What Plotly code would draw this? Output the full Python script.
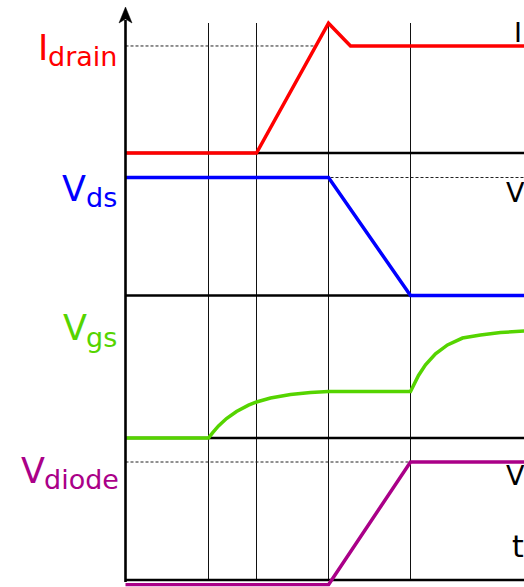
import numpy as np
import plotly.graph_objects as go

W, H = 524, 587

# ---- waveform data (time in arbitrary units, levels normalised per trace) ----
t_marks = [8.3, 13.1, 20.3, 28.5]          # switching instants

idrain_t = [0.0, 13.1, 20.3, 22.5, 42.0]
idrain_v = [0.0, 0.0, 1.10, 0.907, 0.907]
idrain_level = 0.907

vds_t = [0.0, 20.3, 28.5, 42.0]
vds_v = [1.0, 1.0, 0.0, 0.0]
vds_level = 1.0

vgs_t = [0.0, 8.3, 8.7, 9.3, 10.1, 11.1, 12.3, 13.1, 14.5, 16.5, 18.5, 20.3,
         28.5, 28.8, 29.3, 30.0, 31.0, 32.2, 33.7, 35.5, 37.5, 39.9, 42.0]
vgs_v = [0.0, 0.0, 0.044, 0.102, 0.165, 0.225, 0.279, 0.305, 0.339, 0.369, 0.386, 0.394,
         0.394, 0.45, 0.53, 0.62, 0.714, 0.789, 0.847, 0.873, 0.894, 0.907, 0.91]

vdiode_t = [0.0, 20.3, 28.5, 42.0]
vdiode_v = [-0.04, -0.04, 1.0, 1.0]
vdiode_level = 1.0

RED, BLUE, GREEN, MAGENTA = "#ff0000", "#0000ff", "#55d400", "#aa0088"
FONT = "DejaVu Sans"

# ---- layout helpers (pixel -> paper) ----
def py(p):
    return (H - p) / H

def px(p):
    return p / W

baselines = [153, 295.5, 438, 580]
unit = 118.0
lo, hi = -0.055, 1.15

fig = go.Figure()

series = [
    (idrain_t, idrain_v, RED),
    (vds_t, vds_v, BLUE),
    (vgs_t, vgs_v, GREEN),
    (vdiode_t, vdiode_v, MAGENTA),
]
for i, (t, v, c) in enumerate(series):
    fig.add_trace(go.Scatter(
        x=t, y=v, mode="lines", line=dict(color=c, width=3.5),
        yaxis="y" if i == 0 else f"y{i+1}", hoverinfo="skip", showlegend=False))

layout = dict(
    width=W, height=H, margin=dict(l=0, r=0, t=0, b=0),
    paper_bgcolor="white", plot_bgcolor="rgba(0,0,0,0)",
    xaxis=dict(range=[-12.55, 39.85], visible=False, fixedrange=True, anchor="y4"),
    showlegend=False,
)
for i, b in enumerate(baselines):
    key = "yaxis" if i == 0 else f"yaxis{i+1}"
    layout[key] = dict(range=[lo, hi], visible=False, fixedrange=True,
                       domain=[py(b - lo * unit), py(b - hi * unit)], anchor="x")
fig.update_layout(**layout)

shapes = []
x_end = 45.0
# time markers
for t in t_marks:
    shapes.append(dict(type="line", xref="x", yref="paper", x0=t, x1=t,
                       y0=py(581), y1=py(23), line=dict(color="#111111", width=1),
                       layer="below"))
# panel baselines
for i in range(4):
    yr = "y" if i == 0 else f"y{i+1}"
    shapes.append(dict(type="line", xref="x", yref=yr, x0=0, x1=x_end, y0=0, y1=0,
                       line=dict(color="black", width=2.3), layer="below"))
# reference levels
dash = dict(color="#222222", width=1, dash="3px,2px")
x_cross = float(np.interp(idrain_level, idrain_v[1:3], idrain_t[1:3]))
shapes.append(dict(type="line", xref="x", yref="y", x0=0, x1=x_cross,
                   y0=idrain_level, y1=idrain_level, line=dash, layer="below"))
shapes.append(dict(type="line", xref="x", yref="y2", x0=0, x1=x_end,
                   y0=vds_level, y1=vds_level, line=dash, layer="below"))
shapes.append(dict(type="line", xref="x", yref="y4", x0=0, x1=x_end,
                   y0=vdiode_level, y1=vdiode_level, line=dash, layer="below"))
# vertical axis with arrow head
shapes.append(dict(type="line", xref="x", yref="paper", x0=0, x1=0,
                   y0=py(582), y1=py(20), line=dict(color="black", width=2.6),
                   layer="above"))
shapes.append(dict(type="path", xref="x", yref="paper",
                   path=f"M -0.65,{py(23)} L 0,{py(7)} L 0.65,{py(23)} L 0,{py(19)} Z",
                   fillcolor="black", line=dict(color="black", width=0.5), layer="above"))
fig.update_layout(shapes=shapes)

# ---- text labels ----
ann = []
def text(s, left, base, size, color):
    desc = 0.236 * size
    ann.append(dict(text=s, xref="paper", yref="paper", x=px(left), y=py(base + desc),
                    xanchor="left", yanchor="bottom", showarrow=False,
                    borderpad=0, borderwidth=0,
                    font=dict(family=FONT, size=size, color=color)))

MAIN, SUB = 35, 27
text("I", 37.6, 60, MAIN, RED)
text("drain", 48.3, 66, SUB, RED)
text("V", 62, 201, MAIN, BLUE)
text("ds", 86, 207, SUB, BLUE)
text("V", 63, 340, MAIN, GREEN)
text("gs", 86, 347, SUB, GREEN)
text("V", 21, 483, MAIN, MAGENTA)
text("diode", 44, 489, SUB, MAGENTA)

text("I", 514.4, 42, 27, "black")
text("V", 505.5, 202, 27, "black")
text("V", 505.5, 485, 27, "black")
text("t", 511.5, 557, 30, "black")
fig.update_layout(annotations=ann)

fig.write_html("out.html")
